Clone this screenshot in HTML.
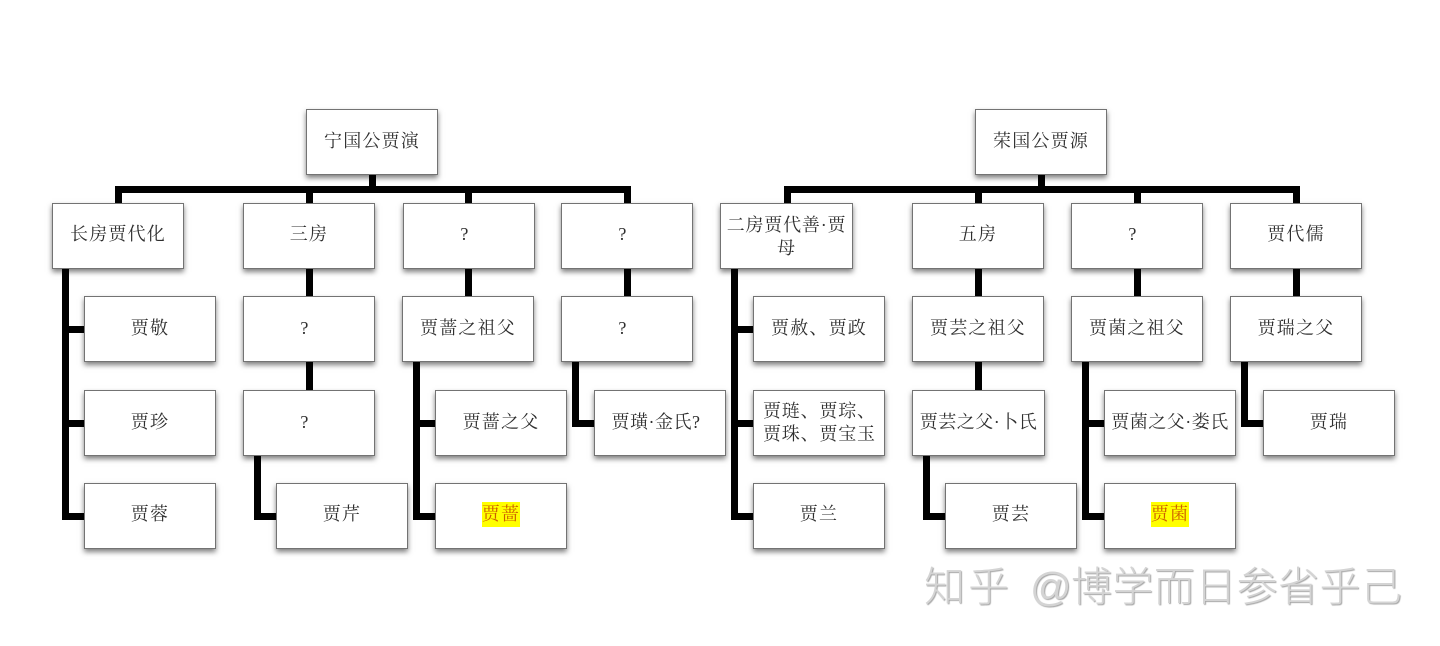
<!DOCTYPE html>
<html lang="zh"><head><meta charset="utf-8"><title>贾氏谱系</title>
<style>
html,body{margin:0;padding:0;background:#fff}
#c{position:relative;width:1440px;height:646px;overflow:hidden;background:#fff}
.b{position:absolute;box-sizing:border-box;height:66px;width:132px;background:#fff;border:1.5px solid #737373;box-shadow:0 3px 5px rgba(0,0,0,.5);display:flex;align-items:center;justify-content:center;text-align:center;font:18px/23px "Liberation Serif","Noto Serif CJK SC",serif;letter-spacing:1.2px;color:#2e2e2e;padding-bottom:1px;z-index:2}
.r1,.r4{padding-bottom:3px}
.q{position:relative;left:-4px}
.n{letter-spacing:.5px}
.l{position:absolute;background:#000;z-index:1}
.y{background:#ff0;color:#cc5f00;padding:1px 0}
.w{position:absolute;top:563px;font:200 41px/48px "Liberation Sans","Noto Sans CJK SC",sans-serif;color:#d4d4d4;text-shadow:1px 1px 1px #a6a6a6;white-space:nowrap;z-index:3}
</style></head><body><div id="c">
<!-- left connectors -->
<div class="l" style="left:369px;top:174px;width:7px;height:18px"></div>
<div class="l" style="left:115px;top:186px;width:515px;height:7px;border-radius:3px 3px 0 0"></div>
<div class="l" style="left:115px;top:186px;width:7px;height:18px"></div>
<div class="l" style="left:306px;top:186px;width:7px;height:18px"></div>
<div class="l" style="left:465px;top:186px;width:7px;height:18px"></div>
<div class="l" style="left:624px;top:186px;width:7px;height:18px"></div>
<div class="l" style="left:62px;top:268px;width:7px;height:252px;border-radius:0 0 0 3px"></div>
<div class="l" style="left:62px;top:326px;width:24px;height:7px"></div>
<div class="l" style="left:62px;top:420px;width:24px;height:7px"></div>
<div class="l" style="left:62px;top:513px;width:24px;height:7px"></div>
<div class="l" style="left:306px;top:268px;width:7px;height:29px"></div>
<div class="l" style="left:306px;top:361px;width:7px;height:30px"></div>
<div class="l" style="left:254px;top:455px;width:7px;height:65px;border-radius:0 0 0 3px"></div>
<div class="l" style="left:254px;top:513px;width:24px;height:7px"></div>
<div class="l" style="left:465px;top:268px;width:7px;height:29px"></div>
<div class="l" style="left:413px;top:361px;width:7px;height:159px;border-radius:0 0 0 3px"></div>
<div class="l" style="left:413px;top:420px;width:24px;height:7px"></div>
<div class="l" style="left:413px;top:513px;width:24px;height:7px"></div>
<div class="l" style="left:624px;top:268px;width:7px;height:29px"></div>
<div class="l" style="left:572px;top:361px;width:7px;height:66px;border-radius:0 0 0 3px"></div>
<div class="l" style="left:572px;top:420px;width:24px;height:7px"></div>
<!-- right connectors -->
<div class="l" style="left:1038px;top:174px;width:7px;height:18px"></div>
<div class="l" style="left:784px;top:186px;width:515px;height:7px;border-radius:3px 3px 0 0"></div>
<div class="l" style="left:784px;top:186px;width:7px;height:18px"></div>
<div class="l" style="left:975px;top:186px;width:7px;height:18px"></div>
<div class="l" style="left:1134px;top:186px;width:7px;height:18px"></div>
<div class="l" style="left:1293px;top:186px;width:7px;height:18px"></div>
<div class="l" style="left:731px;top:268px;width:7px;height:252px;border-radius:0 0 0 3px"></div>
<div class="l" style="left:731px;top:326px;width:24px;height:7px"></div>
<div class="l" style="left:731px;top:420px;width:24px;height:7px"></div>
<div class="l" style="left:731px;top:513px;width:24px;height:7px"></div>
<div class="l" style="left:975px;top:268px;width:7px;height:29px"></div>
<div class="l" style="left:975px;top:361px;width:7px;height:30px"></div>
<div class="l" style="left:923px;top:455px;width:7px;height:65px;border-radius:0 0 0 3px"></div>
<div class="l" style="left:923px;top:513px;width:24px;height:7px"></div>
<div class="l" style="left:1134px;top:268px;width:7px;height:29px"></div>
<div class="l" style="left:1082px;top:361px;width:7px;height:159px;border-radius:0 0 0 3px"></div>
<div class="l" style="left:1082px;top:420px;width:24px;height:7px"></div>
<div class="l" style="left:1082px;top:513px;width:24px;height:7px"></div>
<div class="l" style="left:1293px;top:268px;width:7px;height:29px"></div>
<div class="l" style="left:1241px;top:361px;width:7px;height:66px;border-radius:0 0 0 3px"></div>
<div class="l" style="left:1241px;top:420px;width:24px;height:7px"></div>
<!-- left boxes -->
<div class="b" style="left:306px;top:109px">宁国公贾演</div>
<div class="b r1" style="left:52px;top:203px">长房贾代化</div>
<div class="b r1" style="left:243px;top:203px">三房</div>
<div class="b r1" style="left:403px;top:203px"><span class="q">?</span></div>
<div class="b r1" style="left:561px;top:203px"><span class="q">?</span></div>
<div class="b" style="left:84px;top:296px">贾敬</div>
<div class="b" style="left:84px;top:390px">贾珍</div>
<div class="b r4" style="left:84px;top:483px">贾蓉</div>
<div class="b" style="left:243px;top:296px"><span class="q">?</span></div>
<div class="b" style="left:243px;top:390px"><span class="q">?</span></div>
<div class="b r4" style="left:276px;top:483px">贾芹</div>
<div class="b" style="left:402px;top:296px">贾蔷之祖父</div>
<div class="b" style="left:435px;top:390px">贾蔷之父</div>
<div class="b r4" style="left:435px;top:483px"><span class="y">贾蔷</span></div>
<div class="b" style="left:561px;top:296px"><span class="q">?</span></div>
<div class="b n" style="left:594px;top:390px;padding-right:8px">贾璜·金氏?</div>
<!-- right boxes -->
<div class="b" style="left:975px;top:109px">荣国公贾源</div>
<div class="b" style="left:720px;top:203px;width:133px;padding:1px 0 0 0;letter-spacing:.8px">二房贾代善·贾<br>母</div>
<div class="b r1" style="left:912px;top:203px">五房</div>
<div class="b r1" style="left:1071px;top:203px"><span class="q">?</span></div>
<div class="b r1" style="left:1230px;top:203px">贾代儒</div>
<div class="b" style="left:753px;top:296px">贾赦、贾政</div>
<div class="b" style="left:753px;top:390px;padding:0 0 1px 9px;justify-content:flex-start;text-align:left;letter-spacing:.8px">贾琏、贾琮、<br>贾珠、贾宝玉</div>
<div class="b r4" style="left:753px;top:483px">贾兰</div>
<div class="b" style="left:912px;top:296px">贾芸之祖父</div>
<div class="b n" style="left:912px;top:390px;width:133px">贾芸之父·卜氏</div>
<div class="b r4" style="left:945px;top:483px">贾芸</div>
<div class="b" style="left:1071px;top:296px">贾菌之祖父</div>
<div class="b n" style="left:1104px;top:390px">贾菌之父·娄氏</div>
<div class="b r4" style="left:1104px;top:483px"><span class="y">贾菌</span></div>
<div class="b" style="left:1230px;top:296px">贾瑞之父</div>
<div class="b" style="left:1263px;top:390px">贾瑞</div>
<!-- watermark -->
<div class="w" style="left:924px;letter-spacing:3px">知乎</div>
<div class="w" style="left:1030px">@</div>
<div class="w" style="left:1071px;letter-spacing:0.4px">博学而日参省乎己</div>
</div></body></html>
